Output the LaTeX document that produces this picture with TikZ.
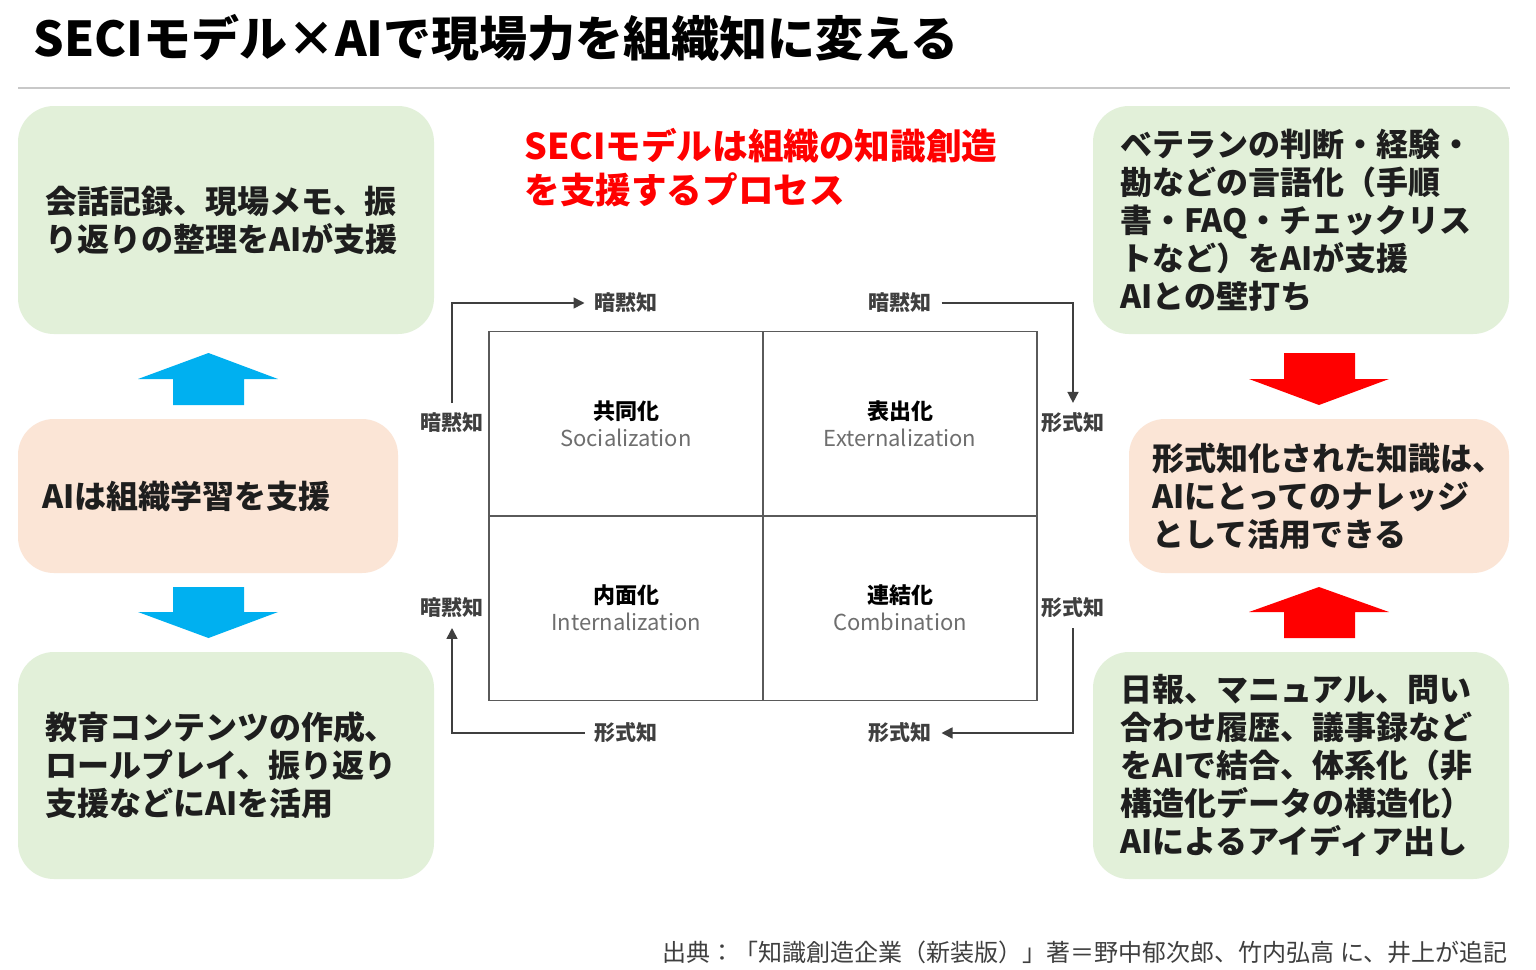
\documentclass[tikz,border=0pt]{standalone}
\usepackage{fontspec}
\setmainfont{Noto Sans CJK JP}
\usetikzlibrary{arrows.meta}
\definecolor{boxgreen}{HTML}{E2F0D9}
\definecolor{boxpeach}{HTML}{FBE5D6}
\definecolor{arrblue}{HTML}{00B0F0}
\definecolor{arrred}{HTML}{FF0000}
\definecolor{linegray}{HTML}{3F3F3F}
\definecolor{gridgray}{HTML}{5A5A5A}
\definecolor{engray}{HTML}{6E6E6E}
\definecolor{rulegray}{HTML}{C8C8C8}
\definecolor{txtdark}{HTML}{1E1E1E}
\begin{document}
\begin{tikzpicture}[x=0.5pt,y=-0.5pt,
  gbox/.style={fill=boxgreen, rounded corners=18pt, inner sep=0pt, minimum width=208pt, minimum height=114pt},
  pbox/.style={fill=boxpeach, rounded corners=18pt, inner sep=0pt, minimum width=190pt, minimum height=77pt},
  btext/.style={anchor=west, align=left, inner sep=0pt, text=txtdark, font=\fontsize{16pt}{19pt}\selectfont\bfseries},
  quad/.style={draw=gridgray, line width=0.75pt, minimum width=137pt, minimum height=92.25pt, inner sep=0pt, align=center, font=\fontsize{11pt}{13.5pt}\selectfont},
  cyclab/.style={inner sep=1pt, outer sep=4pt, text=linegray, font=\fontsize{10.5pt}{12pt}\selectfont\bfseries},
  cyc/.style={draw=linegray, line width=0.8pt, -{Triangle[length=5.5pt,width=5.5pt]}},
  blue arrow/.style={fill=arrblue},
  red arrow/.style={fill=arrred}
]
\useasboundingbox (0,0) rectangle (1536,969);
\fill[white] (0,0) rectangle (1536,969);

% title
\node[anchor=west, inner sep=0pt, font=\fontsize{24pt}{28pt}\selectfont\bfseries] (title) at (33,38) {SECIモデル×AIで現場力を組織知に変える};
\draw[rulegray, line width=1pt] (18,88) -- (1510,88);

% left boxes
\node[gbox] (lt) at (226,220) {};
\node[btext] (ltt) at ([xshift=13.5pt]lt.west) {会話記録、現場メモ、振\\り返りの整理をAIが支援};
\node[pbox] (lm) at (208,496) {};
\node[btext] (lmt) at ([xshift=12pt]lm.west) {AIは組織学習を支援};
\node[gbox, minimum height=113.5pt] (lb) at (226,765.5) {};
\node[btext] (lbt) at ([xshift=13.5pt]lb.west) {教育コンテンツの作成、\\ロールプレイ、振り返り\\支援などにAIを活用};

% right boxes
\node[gbox] (rt) at (1301,220) {};
\node[btext] (rtt) at ([xshift=13.5pt]rt.west) {ベテランの判断・経験・\\勘などの言語化（手順\\書・FAQ・チェックリス\\トなど）をAIが支援\\AIとの壁打ち};
\node[pbox] (rm) at (1319,496) {};
\node[btext] (rmt) at ([xshift=11.5pt]rm.west) {形式知化された知識は、\\AIにとってのナレッジ\\として活用できる};
\node[gbox, minimum height=113.5pt] (rb) at (1301,765.5) {};
\node[btext] (rbt) at ([xshift=13.5pt]rb.west) {日報、マニュアル、問い\\合わせ履歴、議事録など\\をAIで結合、体系化（非\\構造化データの構造化）\\AIによるアイディア出し};

% block arrows
\fill[blue arrow] (208.5,353) -- (278,379) -- (244,379) -- (244,405) -- (173,405) -- (173,379) -- (138,379) -- cycle;
\fill[blue arrow] (208.5,638) -- (278,612) -- (244,612) -- (244,587) -- (173,587) -- (173,612) -- (138,612) -- cycle;
\fill[red arrow] (1319,405) -- (1389,379) -- (1355,379) -- (1355,353) -- (1284,353) -- (1284,379) -- (1249,379) -- cycle;
\fill[red arrow] (1319,587) -- (1389,612) -- (1355,612) -- (1355,638) -- (1284,638) -- (1284,612) -- (1249,612) -- cycle;

% red heading
\node[anchor=west, align=left, inner sep=0pt, text=arrred, font=\fontsize{17.8pt}{22pt}\selectfont\bfseries] (seci) at (524,168) {SECIモデルは組織の知識創造\\を支援するプロセス};

% quadrants
\node[quad] (q1) at (626,423.5) {\textbf{共同化}\\{\color{engray}Socialization}};
\node[quad] (q2) at (900,423.5) {\textbf{表出化}\\{\color{engray}Externalization}};
\node[quad] (q3) at (626,608) {\textbf{内面化}\\{\color{engray}Internalization}};
\node[quad] (q4) at (900,608) {\textbf{連結化}\\{\color{engray}Combination}};

% cycle labels
\node[cyclab] (t1) at (626,303) {暗黙知};
\node[cyclab] (t2) at (900,303) {暗黙知};
\node[cyclab] (l1) at (452,423) {暗黙知};
\node[cyclab] (l2) at (452,608) {暗黙知};
\node[cyclab] (r1) at (1073,423) {形式知};
\node[cyclab] (r2) at (1073,608) {形式知};
\node[cyclab] (b1) at (626,733) {形式知};
\node[cyclab] (b2) at (900,733) {形式知};

\draw[cyc] (l1.north) |- (t1.west);
\draw[cyc] (t2.east) -| (r1.north);
\draw[cyc] (r2.south) |- (b2.east);
\draw[cyc] (b1.west) -| (l2.south);

% source
\node[anchor=east, inner sep=0pt, text=linegray, font=\fontsize{12pt}{14pt}\selectfont] (src) at (1508,952) {出典：「知識創造企業（新装版）」著＝野中郁次郎、竹内弘高 に、井上が追記};
\end{tikzpicture}
\end{document}
